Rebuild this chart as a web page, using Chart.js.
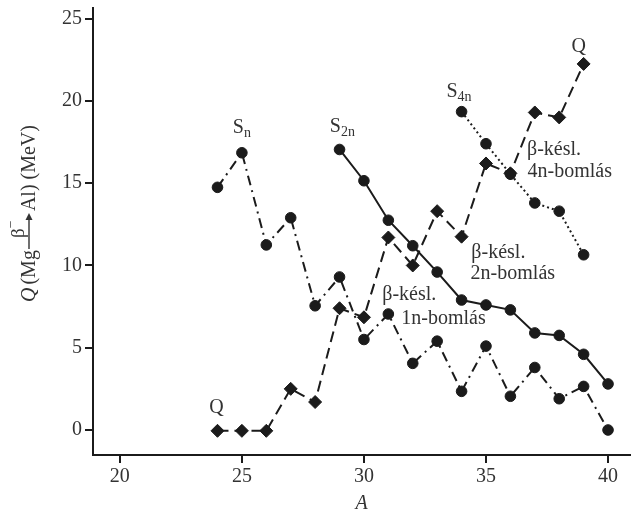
<!DOCTYPE html>
<html>
<head>
<meta charset="utf-8">
<script src="https://cdn.jsdelivr.net/npm/chart.js@4"></script>
<style>
  body { margin: 0; background: #fff; }
  #wrap { width: 631px; height: 516px; }
</style>
</head>
<body>
<div id="wrap"><canvas id="chart" width="631" height="516"></canvas></div>
<script>
// mass numbers and energies (MeV)
const snA = [24, 25, 26, 27, 28, 29, 30, 31, 32, 33, 34, 35, 36, 37, 38, 39, 40]
const snVals = [14.75, 16.85, 11.25, 12.9, 7.55, 9.3, 5.5, 7.05, 4.05, 5.4, 2.35, 5.1, 2.05, 3.8, 1.9, 2.65, 0.0]

const s2nA = [29, 30, 31, 32, 33, 34, 35, 36, 37, 38, 39, 40]
const s2nVals = [17.05, 15.15, 12.75, 11.2, 9.6, 7.9, 7.6, 7.3, 5.9, 5.75, 4.6, 2.8]

const s4nA = [34, 35, 36, 37, 38, 39]
const s4nVals = [19.35, 17.4, 15.55, 13.8, 13.3, 10.65]

const qA = [24, 25, 26, 27, 28, 29, 30, 31, 32, 33, 34, 35, 36, 37, 38, 39]
const qVals = [-0.05, -0.05, -0.05, 2.5, 1.7, 7.4, 6.85, 11.7, 10.0, 13.3, 11.75, 16.2, 15.6, 19.3, 19.0, 22.25]

const xTicks = [20, 25, 30, 35, 40]
const yTicks = [0, 5, 10, 15, 20, 25]

// text labels inside the plot: main text, subscript, anchor in data units
const noteTexts = ['S', 'S', 'S', 'Q', 'Q', 'β-késl.', '4n-bomlás', 'β-késl.', '2n-bomlás', 'β-késl.', '1n-bomlás']
const noteSubs = ['n', '2n', '4n', '', '', '', '', '', '', '', '']
const noteX = [24.63, 28.6, 33.38, 38.5, 23.66, 36.68, 36.7, 34.4, 34.37, 30.75, 31.53]
const noteY = [18.05, 18.1, 20.26, 23.0, 1.02, 16.7, 15.4, 10.45, 9.16, 7.9, 6.44]

const ink = '#1b1b1b'
const textInk = '#333333'
const serif = '"Liberation Serif", "Times New Roman", serif'

// turn two arrays into x/y points
function toPoints(xs, ys) {
    let pts = []
    for (let i = 0; i < xs.length; i++) {
        pts.push({x: xs[i], y: ys[i]})
    }
    return pts
}

function series(xs, ys, style, dash) {
    return {
        data: toPoints(xs, ys),
        borderColor: ink,
        backgroundColor: ink,
        borderWidth: 2,
        borderDash: dash,
        pointStyle: style,
        pointRadius: style === 'rectRot' ? 6.5 : 5.3,
        pointBorderWidth: 1,
        pointBorderColor: ink,
        pointBackgroundColor: ink,
        tension: 0
    }
}

// no extra room for tick labels, the plot box is fixed
function noLabelPadding(scale) {
    scale.paddingTop = 0
    scale.paddingBottom = 0
    scale.paddingLeft = 0
    scale.paddingRight = 0
}

// draws the in-plot labels and the rotated y title
const notesPlugin = {
    id: 'notes',
    afterDraw(chart) {
        const ctx = chart.ctx
        const xs = chart.scales.x
        const ys = chart.scales.y
        ctx.save()
        ctx.fillStyle = textInk
        ctx.textBaseline = 'alphabetic'
        ctx.textAlign = 'left'
        for (let i = 0; i < noteTexts.length; i++) {
            let px = xs.getPixelForValue(noteX[i])
            let py = ys.getPixelForValue(noteY[i])
            ctx.font = '20px ' + serif
            ctx.fillText(noteTexts[i], px, py)
            if (noteSubs[i]) {
                let w = ctx.measureText(noteTexts[i]).width
                ctx.font = '14px ' + serif
                ctx.fillText(noteSubs[i], px + w, py + 4)
            }
        }

        // y title: Q (Mg --β⁻--> Al) (MeV), read bottom to top
        ctx.translate(35, 302)
        ctx.rotate(-Math.PI / 2)
        let u = 0
        ctx.font = 'italic 20px ' + serif
        ctx.fillText('Q', u, 0)
        u += ctx.measureText('Q').width + 3
        ctx.font = '20px ' + serif
        ctx.fillText('(Mg', u, 0)
        u += ctx.measureText('(Mg').width + 1
        let arrowLen = 36
        ctx.strokeStyle = textInk
        ctx.lineWidth = 1.4
        ctx.beginPath()
        ctx.moveTo(u, -6)
        ctx.lineTo(u + arrowLen - 5, -6)
        ctx.stroke()
        ctx.beginPath()
        ctx.moveTo(u + arrowLen, -6)
        ctx.lineTo(u + arrowLen - 7, -9.5)
        ctx.lineTo(u + arrowLen - 7, -2.5)
        ctx.closePath()
        ctx.fill()
        ctx.font = '19px ' + serif
        let bw = ctx.measureText('β').width
        ctx.fillText('β', u + arrowLen / 2 - bw / 2 - 2, -11)
        ctx.font = '14px ' + serif
        ctx.fillText('−', u + arrowLen / 2 + bw / 2 - 2, -20)
        u += arrowLen + 2
        ctx.font = '20px ' + serif
        ctx.fillText('Al) (MeV)', u, 0)
        ctx.restore()
    }
}

new Chart(document.getElementById('chart'), {
    type: 'line',
    data: {
        datasets: [
            series(snA, snVals, 'circle', [10, 5, 2, 5]),
            series(s2nA, s2nVals, 'circle', []),
            series(s4nA, s4nVals, 'circle', [2, 3]),
            series(qA, qVals, 'rectRot', [11, 6])
        ]
    },
    options: {
        responsive: false,
        animation: false,
        layout: {autoPadding: false, padding: {top: 8, right: 1, left: 0, bottom: 0}},
        plugins: {legend: {display: false}, tooltip: {enabled: false}},
        scales: {
            x: {
                type: 'linear',
                min: 18.9,
                max: 40.9,
                afterBuildTicks: (scale) => { scale.ticks = xTicks.map(v => ({value: v})) },
                afterFit: (scale) => { scale.height = 61; noLabelPadding(scale) },
                grid: {drawOnChartArea: false, drawTicks: true, tickLength: 8, color: ink, lineWidth: 2},
                border: {display: true, color: ink, width: 2},
                ticks: {color: textInk, font: {family: serif, size: 20}, padding: 2, maxRotation: 0},
                title: {display: true, text: 'A', color: textInk, font: {family: serif, size: 20, style: 'italic'}, padding: {top: 0, bottom: 0}}
            },
            y: {
                type: 'linear',
                min: -1.52,
                max: 25.65,
                afterBuildTicks: (scale) => { scale.ticks = yTicks.map(v => ({value: v})) },
                afterFit: (scale) => { scale.width = 93; noLabelPadding(scale) },
                grid: {drawOnChartArea: false, drawTicks: true, tickLength: 8, color: ink, lineWidth: 2},
                border: {display: true, color: ink, width: 2},
                ticks: {color: textInk, font: {family: serif, size: 20}, padding: 3}
            }
        }
    },
    plugins: [notesPlugin]
})
</script>
</body>
</html>
